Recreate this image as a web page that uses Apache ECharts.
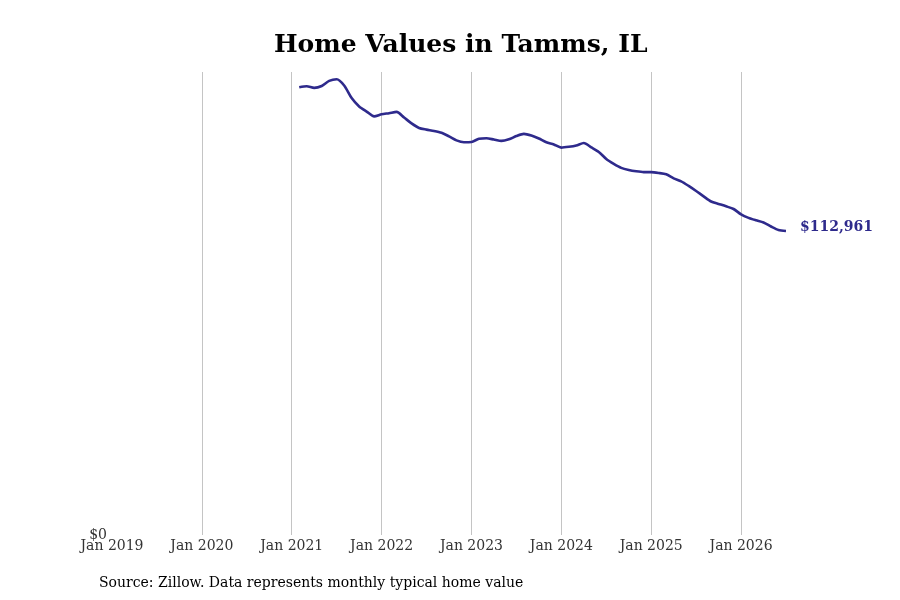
<!DOCTYPE html>
<html>
<head>
<meta charset="UTF-8">
<title>Home Values in Tamms, IL</title>
<script src="https://cdn.jsdelivr.net/npm/echarts@6/dist/echarts.min.js"></script>
<style>
body{margin:0;background:#fff;}
#chart{width:900px;height:600px;}
</style>
</head>
<body>
<div id="chart"></div>
<script>

// monthly typical home value, Feb 2021 .. Jul 2026
const months = [
 "2021-02","2021-03","2021-04","2021-05","2021-06","2021-07","2021-08","2021-09","2021-10","2021-11","2021-12",
 "2022-01","2022-02","2022-03","2022-04","2022-05","2022-06","2022-07","2022-08","2022-09","2022-10","2022-11","2022-12",
 "2023-01","2023-02","2023-03","2023-04","2023-05","2023-06","2023-07","2023-08","2023-09","2023-10","2023-11","2023-12",
 "2024-01","2024-02","2024-03","2024-04","2024-05","2024-06","2024-07","2024-08","2024-09","2024-10","2024-11","2024-12",
 "2025-01","2025-02","2025-03","2025-04","2025-05","2025-06","2025-07","2025-08","2025-09","2025-10","2025-11","2025-12",
 "2026-01","2026-02","2026-03","2026-04","2026-05","2026-06","2026-07"
]

const values = [
 166300,166700,166100,166800,168700,169300,167000,162300,159200,157300,155500,
 156300,156700,157200,155100,152900,151200,150600,150100,149400,148100,146600,145900,
 146000,147200,147400,146900,146400,147000,148200,149000,148400,147300,145900,145100,
 143900,144200,144700,145600,144000,142300,139700,137900,136400,135600,135100,134800,
 134800,134500,134000,132500,131400,129700,127800,125800,123900,123000,122100,121100,
 119100,117800,116900,116100,114600,113300,112961
]

const tickYears = [2019,2020,2021,2022,2023,2024,2025,2026]

const startYear = 2019

function monthIndex(s){
 const p = s.split("-")
 return (Number(p[0])-startYear)*12 + Number(p[1])-1
}

const points = months.map((m,i)=>[monthIndex(m),values[i]])

const font = "DejaVu Serif"

const chart = echarts.init(document.getElementById("chart"))

chart.setOption({
 animation:false,
 title:{
  text:"Home Values in Tamms, IL",
  left:269,
  top:28,
  textStyle:{fontFamily:font,fontSize:25,fontWeight:"bold",color:"#000"}
 },
 graphic:[{
  type:"text",
  left:99,
  top:576,
  style:{text:"Source: Zillow. Data represents monthly typical home value",font:"14px "+font,fill:"#000"}
 }],
 grid:{left:112,right:114,top:72,bottom:65},
 xAxis:{
  type:"value",
  min:0,
  max:90,
  interval:12,
  axisLine:{show:false},
  axisTick:{show:false},
  axisLabel:{
   fontFamily:font,fontSize:14,color:"#333",margin:4,
   showMaxLabel:false,
   formatter:v=>"Jan "+tickYears[v/12]
  },
  splitLine:{show:true,showMinLine:false,showMaxLine:false,lineStyle:{color:"#c4c4c4",width:1}}
 },
 yAxis:{
  type:"value",
  min:0,
  max:172000,
  axisLine:{show:false},
  axisTick:{show:false},
  splitLine:{show:false},
  axisLabel:{
   fontFamily:font,fontSize:14,color:"#333",margin:5,
   formatter:v=>v===0?"$0":""
  }
 },
 series:[{
  type:"line",
  data:points,
  showSymbol:false,
  smooth:0.25,
  lineStyle:{color:"#2e2a8c",width:2.6},
  itemStyle:{color:"#2e2a8c"},
  endLabel:{
   show:true,
   distance:14,
   offset:[0,-4],
   formatter:p=>"$"+p.value[1].toLocaleString("en-US"),
   fontFamily:font,fontSize:14,fontWeight:"bold",color:"#2e2a8c"
  }
 }]
})

</script>
</body>
</html>
